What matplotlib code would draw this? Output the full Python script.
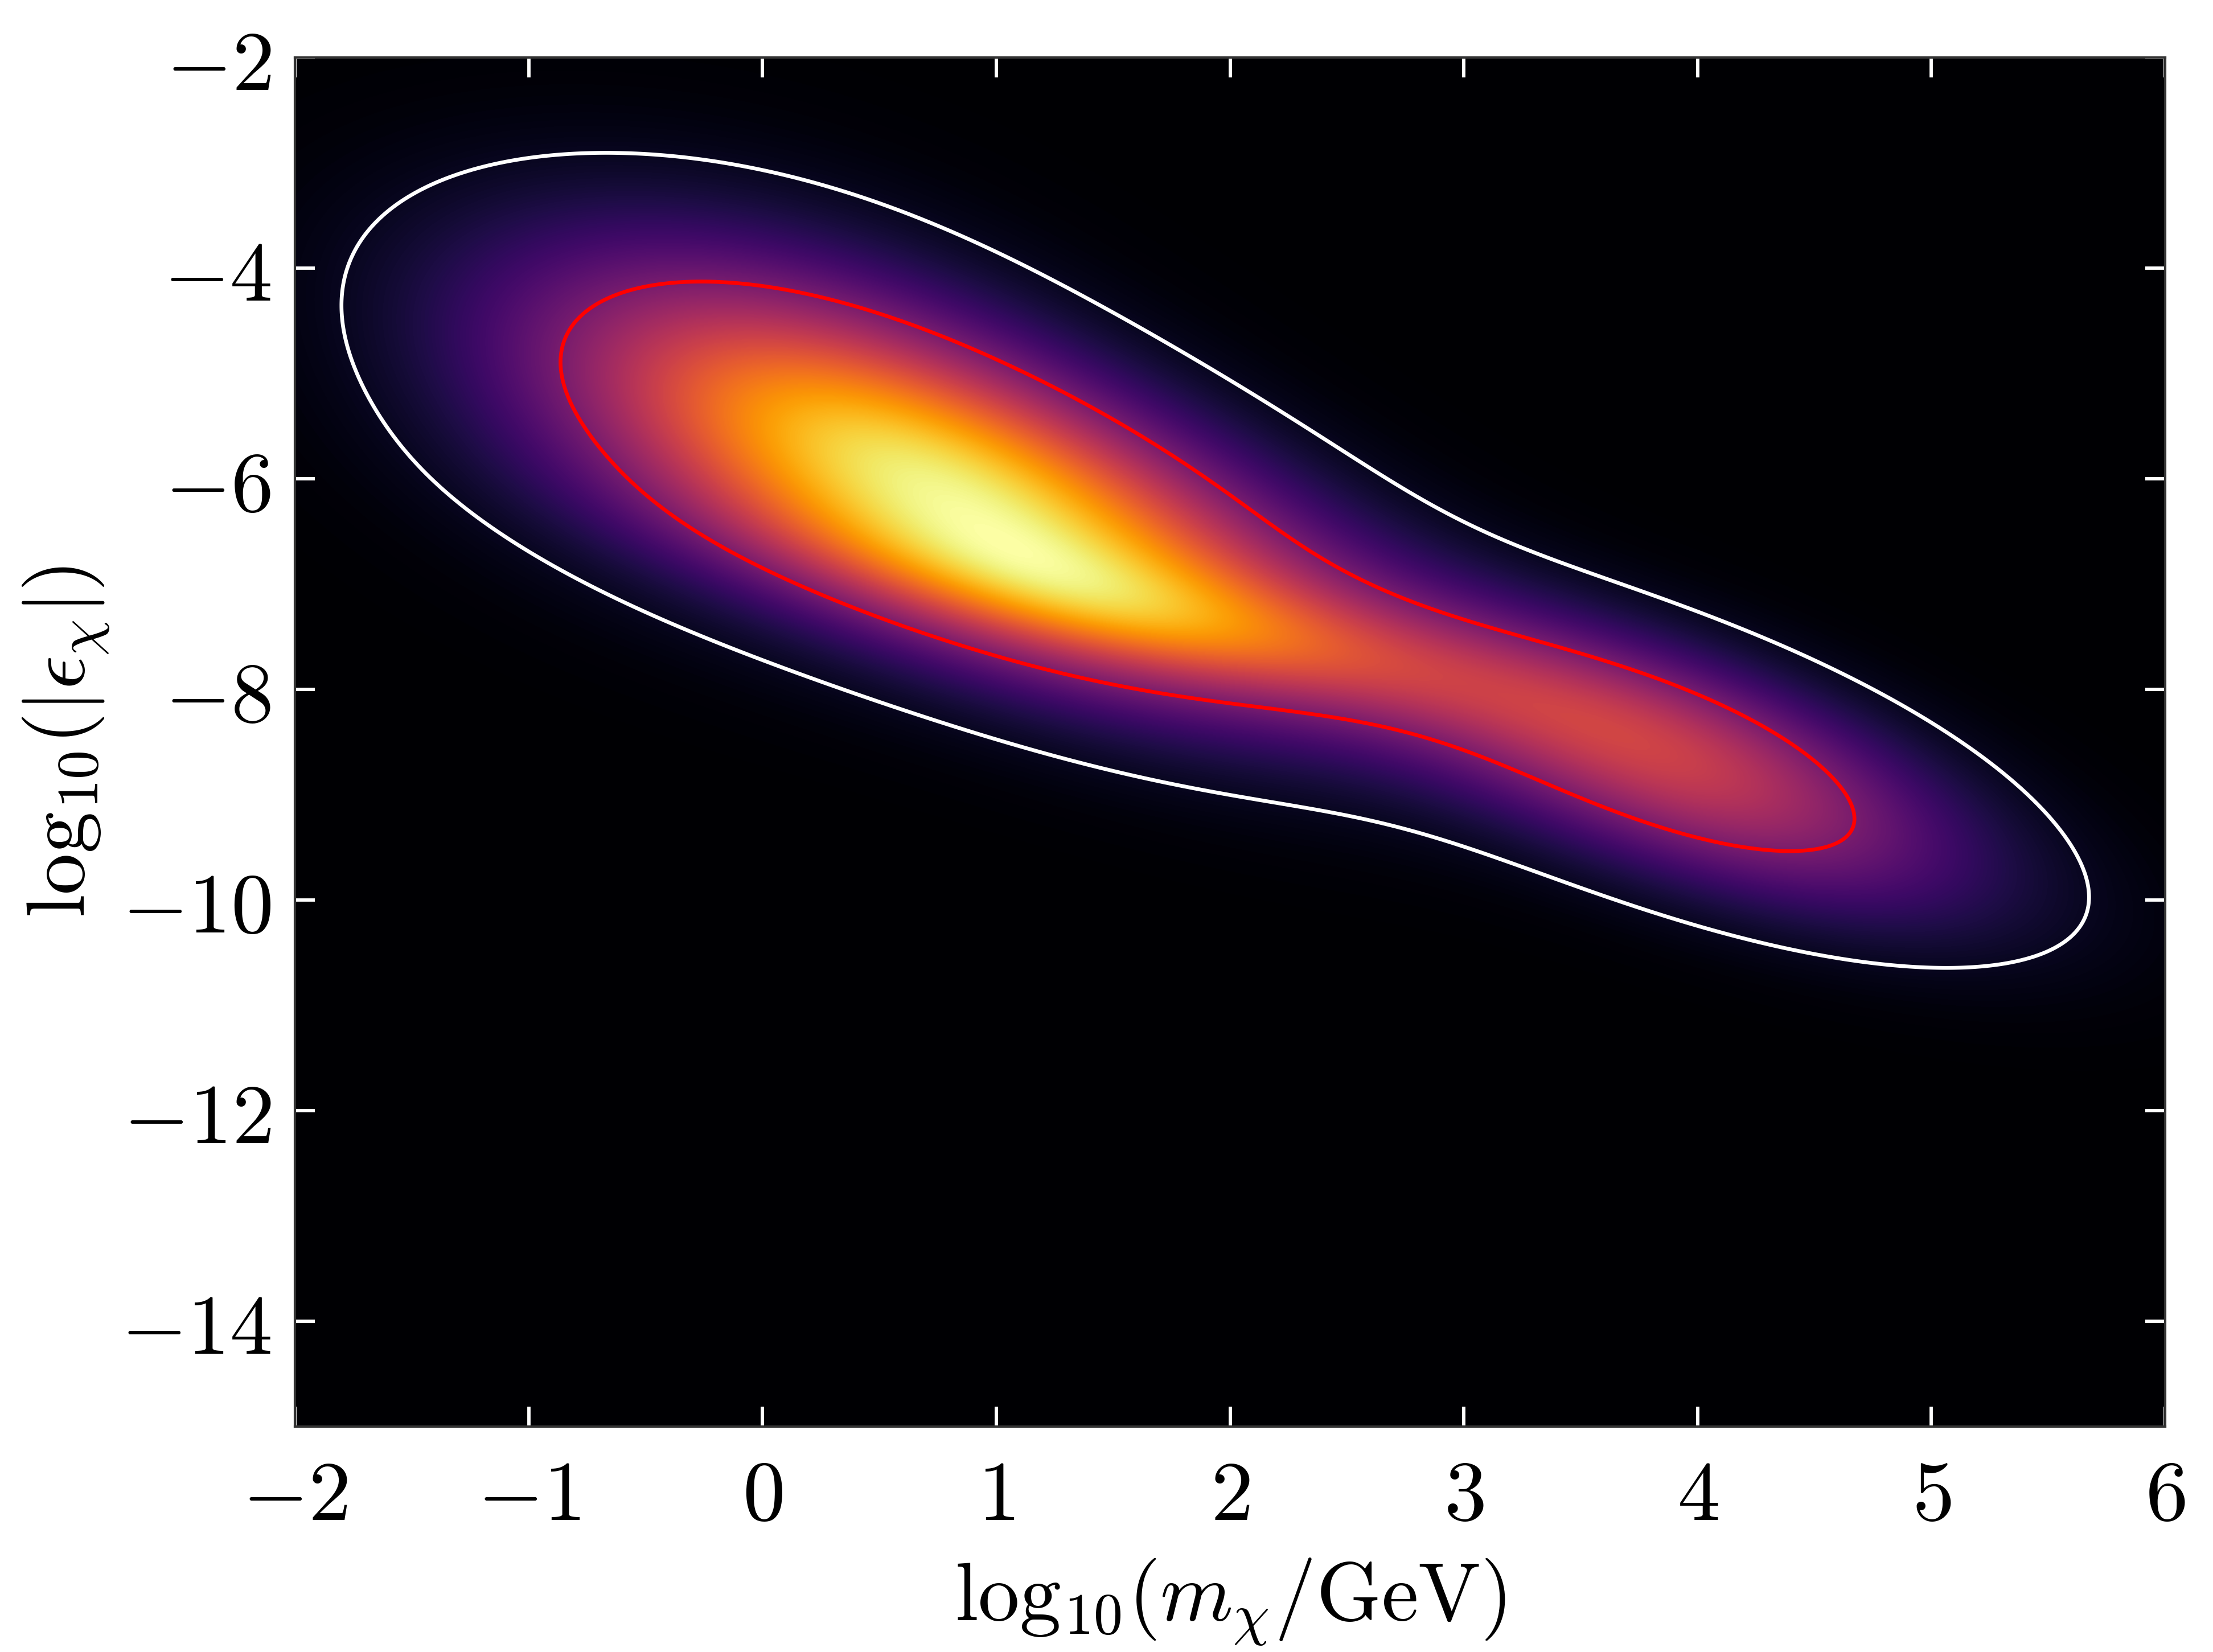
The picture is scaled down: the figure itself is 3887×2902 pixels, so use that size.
import numpy as np
import matplotlib
matplotlib.use('Agg')
import matplotlib.pyplot as plt

plt.rcParams['mathtext.fontset'] = 'cm'
plt.rcParams['font.family'] = 'serif'
plt.rcParams['font.serif'] = ['DejaVu Serif']

# Gaussian-mixture description of the posterior density
comp_mx = [0.983, 3.891, -0.095, 1.821]
comp_my = [-6.297, -8.683, -5.190, -7.351]
comp_sx = [1.019, 0.858, 0.874, 1.112]
comp_sy = [1.199, 0.944, 1.208, 0.653]
comp_rho = [-0.641, -0.659, -0.302, -0.793]
comp_w = [0.5324, 0.2095, 0.1793, 0.0787]

credible_levels = [0.95, 0.68]
contour_colors = ['white', 'red']

x_ticks = [-2, -1, 0, 1, 2, 3, 4, 5, 6]
y_ticks = [-14, -12, -10, -8, -6, -4, -2]
x_range = [-2, 6]
y_range = [-15, -2]


def density(X, Y):
    out = np.zeros_like(X, dtype=float)
    w = np.array(comp_w) / np.sum(comp_w)
    for mx, my, sx, sy, r, wk in zip(comp_mx, comp_my, comp_sx, comp_sy, comp_rho, w):
        dx = (X - mx) / sx
        dy = (Y - my) / sy
        q = (dx * dx - 2 * r * dx * dy + dy * dy) / (1 - r * r)
        out += wk * np.exp(-0.5 * q) / (2 * np.pi * sx * sy * np.sqrt(1 - r * r))
    return out


def hpd_level(Z, mass):
    z = np.sort(Z.ravel())[::-1]
    c = np.cumsum(z)
    c /= c[-1]
    return z[np.searchsorted(c, mass)]


# wide grid for the credible-region thresholds
GX, GY = np.meshgrid(np.linspace(-5, 9, 700), np.linspace(-18, 1, 900))
GZ = density(GX, GY)
levels = sorted(hpd_level(GZ, m) for m in credible_levels)

xs = np.linspace(x_range[0], x_range[1], 800)
ys = np.linspace(y_range[0], y_range[1], 800)
X, Y = np.meshgrid(xs, ys)
Z = density(X, Y)

fig = plt.figure(figsize=(3887 / 300, 2902 / 300), dpi=300)
ax = fig.add_axes([0.1333, 0.1365, 0.8451, 0.8287])
ax.imshow(Z / Z.max(), extent=[x_range[0], x_range[1], y_range[0], y_range[1]],
          origin='lower', cmap='inferno', aspect='auto', interpolation='bilinear',
          vmin=0, vmax=1)
ax.contour(X, Y, Z, levels=levels, colors=contour_colors, linewidths=1.6)

ax.set_xlim(*x_range)
ax.set_ylim(*y_range)
ax.set_xticks(x_ticks, labels=[f'${v}$' for v in x_ticks])
ax.set_yticks(y_ticks, labels=[f'${v}$' for v in y_ticks])
ax.tick_params(axis='both', which='major', direction='in', top=True, right=True,
               color='white', length=8.5, width=1.4, labelsize=36)
ax.tick_params(axis='x', pad=12)
ax.tick_params(axis='y', pad=10)
for sp in ax.spines.values():
    sp.set_color('#333333')
    sp.set_linewidth(1.0)

ax.set_xlabel(r'$\mathrm{log}_{10}(m_\chi/\mathrm{GeV})$', fontsize=35, labelpad=8)
ax.set_ylabel(r'$\mathrm{log}_{10}(|\epsilon_\chi|)$', fontsize=35, labelpad=4)

fig.savefig('out.png', dpi=300)
